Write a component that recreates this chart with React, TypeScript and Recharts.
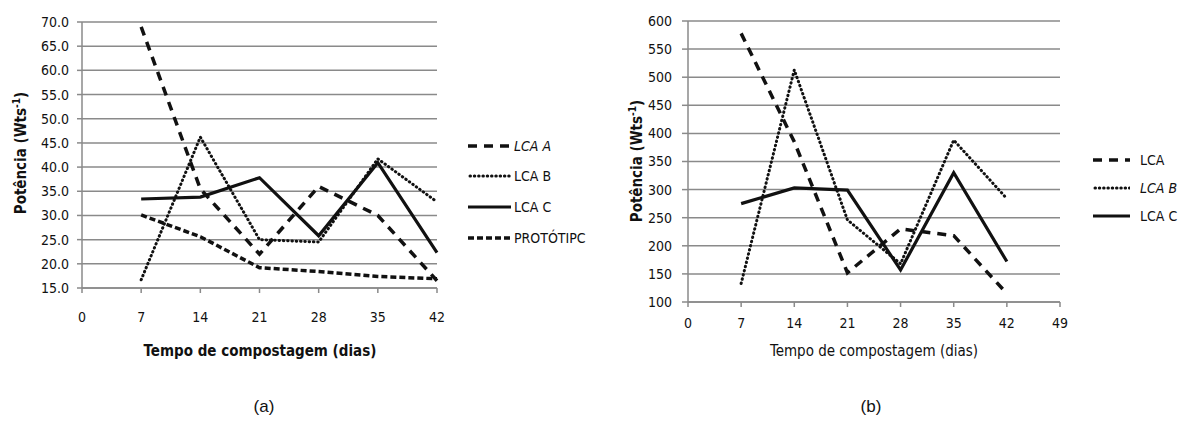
import React from "react";
import { LineChart, Line, XAxis, YAxis, CartesianGrid } from "recharts";

const days = [7, 14, 21, 28, 35, 42];

// (a) left chart
const leftLcaA = [69, 35.5, 22, 36, 30, 16.5];
const leftLcaB = [16.7, 46.2, 25, 24.5, 41.7, 32.8];
const leftLcaC = [33.4, 33.8, 37.8, 25.8, 40.9, 22.3];
const leftProto = [30.1, 25.6, 19.2, 18.4, 17.4, 16.9];
const leftYTicks = [15, 20, 25, 30, 35, 40, 45, 50, 55, 60, 65, 70];
const leftXTicks = [0, 7, 14, 21, 28, 35, 42];

// (b) right chart
const rightLca = [578, 385, 152, 230, 218, 115];
const rightLcaB = [133, 513, 246, 168, 388, 284];
const rightLcaC = [275, 303, 299, 157, 330, 172];
const rightYTicks = [100, 150, 200, 250, 300, 350, 400, 450, 500, 550, 600];
const rightXTicks = [0, 7, 14, 21, 28, 35, 42, 49];

const leftData = days.map((d, i) => ({
  day: d,
  a: leftLcaA[i],
  b: leftLcaB[i],
  c: leftLcaC[i],
  p: leftProto[i],
}));
const rightData = days.map((d, i) => ({
  day: d,
  a: rightLca[i],
  b: rightLcaB[i],
  c: rightLcaC[i],
}));

const GRID = "#8a8a8a";
const INK = "#111";
const TICK_FONT = "'DejaVu Sans Condensed', 'Liberation Sans Narrow', sans-serif";

const STYLE_A = { dash: "9 7", width: 3.5, cap: "butt" as const };
const STYLE_B = { dash: "0.5 3.8", width: 3, cap: "round" as const };
const STYLE_C = { dash: undefined as string | undefined, width: 3.2, cap: "butt" as const };
const STYLE_P = { dash: "6 3", width: 3.5, cap: "butt" as const };

const leftLegend = [
  { name: "LCA A", italic: true, s: STYLE_A },
  { name: "LCA B", italic: false, s: STYLE_B },
  { name: "LCA C", italic: false, s: STYLE_C },
  { name: "PROTÓTIPC", italic: false, s: STYLE_P },
];
const rightLegend = [
  { name: "LCA", italic: false, s: STYLE_A },
  { name: "LCA B", italic: true, s: STYLE_B },
  { name: "LCA C", italic: false, s: STYLE_C },
];

type LegendItem = { name: string; italic: boolean; s: { dash?: string; width: number; cap: "butt" | "round" } };

function LegendBlock({ items, left, tops, iconW, gap }: { items: LegendItem[]; left: number; tops: number[]; iconW: number; gap: number }) {
  return (
    <>
      {items.map((it, i) => (
        <div
          key={it.name}
          style={{
            position: "absolute",
            left,
            top: tops[i] - 9,
            height: 18,
            display: "flex",
            alignItems: "center",
            fontFamily: TICK_FONT,
            fontSize: 14,
            color: INK,
            fontStyle: it.italic ? "italic" : "normal",
            whiteSpace: "nowrap",
          }}
        >
          <svg width={iconW} height={18} style={{ display: "block" }}>
            <line
              x1={it.s.cap === "round" ? 2 : 0}
              y1={9}
              x2={iconW}
              y2={9}
              stroke={INK}
              strokeWidth={it.s.width}
              strokeDasharray={it.s.dash}
              strokeLinecap={it.s.cap}
            />
          </svg>
          <span style={{ marginLeft: gap }}>{it.name}</span>
        </div>
      ))}
    </>
  );
}

const tickStyle = { fontFamily: TICK_FONT, fontSize: 14, fill: INK };

export default function App() {
  return (
    <div
      style={{
        position: "absolute",
        left: 0,
        top: 0,
        width: 1178,
        height: 425,
        background: "#fff",
        overflow: "hidden",
      }}
    >
      {/* (a) */}
      <div style={{ position: "absolute", left: 0, top: 0 }}>
        <LineChart
          width={460}
          height={340}
          data={leftData}
          margin={{ top: 22, left: 0, right: 23, bottom: 0 }}
        >
          <CartesianGrid vertical={false} stroke={GRID} strokeWidth={1.5} />
          <XAxis
            dataKey="day"
            type="number"
            domain={[0, 42]}
            ticks={leftXTicks}
            interval={0}
            height={52}
            stroke={GRID}
            strokeWidth={1.5}
            tickSize={5}
            tickMargin={19}
            tick={tickStyle}
          />
          <YAxis
            type="number"
            domain={[15, 70]}
            ticks={leftYTicks}
            interval={0}
            width={82}
            stroke={GRID}
            strokeWidth={1.5}
            tickSize={5}
            tickMargin={8}
            tick={tickStyle}
            tickFormatter={(v: number) => v.toFixed(1)}
          />
          <Line dataKey="p" stroke={INK} strokeWidth={STYLE_P.width} strokeDasharray={STYLE_P.dash} dot={false} isAnimationActive={false} />
          <Line dataKey="c" stroke={INK} strokeWidth={STYLE_C.width} dot={false} isAnimationActive={false} />
          <Line dataKey="b" stroke={INK} strokeWidth={STYLE_B.width} strokeDasharray={STYLE_B.dash} strokeLinecap="round" dot={false} isAnimationActive={false} />
          <Line dataKey="a" stroke={INK} strokeWidth={STYLE_A.width} strokeDasharray={STYLE_A.dash} dot={false} isAnimationActive={false} />
        </LineChart>
      </div>
      <div
        style={{
          position: "absolute",
          left: 60,
          width: 400,
          top: 342,
          textAlign: "center",
          fontFamily: TICK_FONT,
          fontWeight: "bold",
          fontSize: 15,
          color: INK,
        }}
      >
        Tempo de compostagem (dias)
      </div>
      <div
        style={{
          position: "absolute",
          left: 20,
          top: 153,
          transform: "translate(-50%, -50%) rotate(-90deg)",
          fontFamily: TICK_FONT,
          fontWeight: "bold",
          fontSize: 15,
          color: INK,
          whiteSpace: "nowrap",
        }}
      >
        Potência (Wts<sup style={{ fontSize: 10 }}>-1</sup>)
      </div>
      <LegendBlock items={leftLegend} left={468} tops={[146, 176, 207, 238]} iconW={43} gap={3} />

      {/* (b) */}
      <div style={{ position: "absolute", left: 600, top: 0 }}>
        <LineChart
          width={480}
          height={340}
          data={rightData}
          margin={{ top: 21, left: 0, right: 20, bottom: 0 }}
        >
          <CartesianGrid vertical={false} stroke={GRID} strokeWidth={1.5} />
          <XAxis
            dataKey="day"
            type="number"
            domain={[0, 49]}
            ticks={rightXTicks}
            interval={0}
            height={38}
            stroke={GRID}
            strokeWidth={1.5}
            tickSize={5}
            tickMargin={11}
            tick={tickStyle}
          />
          <YAxis
            type="number"
            domain={[100, 600]}
            ticks={rightYTicks}
            interval={0}
            width={88}
            stroke={GRID}
            strokeWidth={1.5}
            tickSize={6}
            tickMargin={10}
            tick={tickStyle}
          />
          <Line dataKey="c" stroke={INK} strokeWidth={STYLE_C.width} dot={false} isAnimationActive={false} />
          <Line dataKey="b" stroke={INK} strokeWidth={STYLE_B.width} strokeDasharray={STYLE_B.dash} strokeLinecap="round" dot={false} isAnimationActive={false} />
          <Line dataKey="a" stroke={INK} strokeWidth={STYLE_A.width} strokeDasharray={STYLE_A.dash} dot={false} isAnimationActive={false} />
        </LineChart>
      </div>
      <div
        style={{
          position: "absolute",
          left: 674,
          width: 400,
          top: 342,
          textAlign: "center",
          fontFamily: TICK_FONT,
          fontSize: 15,
          color: INK,
        }}
      >
        Tempo de compostagem (dias)
      </div>
      <div
        style={{
          position: "absolute",
          left: 636,
          top: 161,
          transform: "translate(-50%, -50%) rotate(-90deg)",
          fontFamily: TICK_FONT,
          fontWeight: "bold",
          fontSize: 15,
          color: INK,
          whiteSpace: "nowrap",
        }}
      >
        Potência (Wts<sup style={{ fontSize: 10 }}>-1</sup>)
      </div>
      <LegendBlock items={rightLegend} left={1093} tops={[160, 188, 216]} iconW={37} gap={10} />

      <div style={{ position: "absolute", left: 214, width: 100, top: 397, textAlign: "center", fontFamily: "'Liberation Sans', Arial, sans-serif", fontSize: 17, color: INK }}>
        (a)
      </div>
      <div style={{ position: "absolute", left: 821, width: 100, top: 397, textAlign: "center", fontFamily: "'Liberation Sans', Arial, sans-serif", fontSize: 17, color: INK }}>
        (b)
      </div>
    </div>
  );
}
